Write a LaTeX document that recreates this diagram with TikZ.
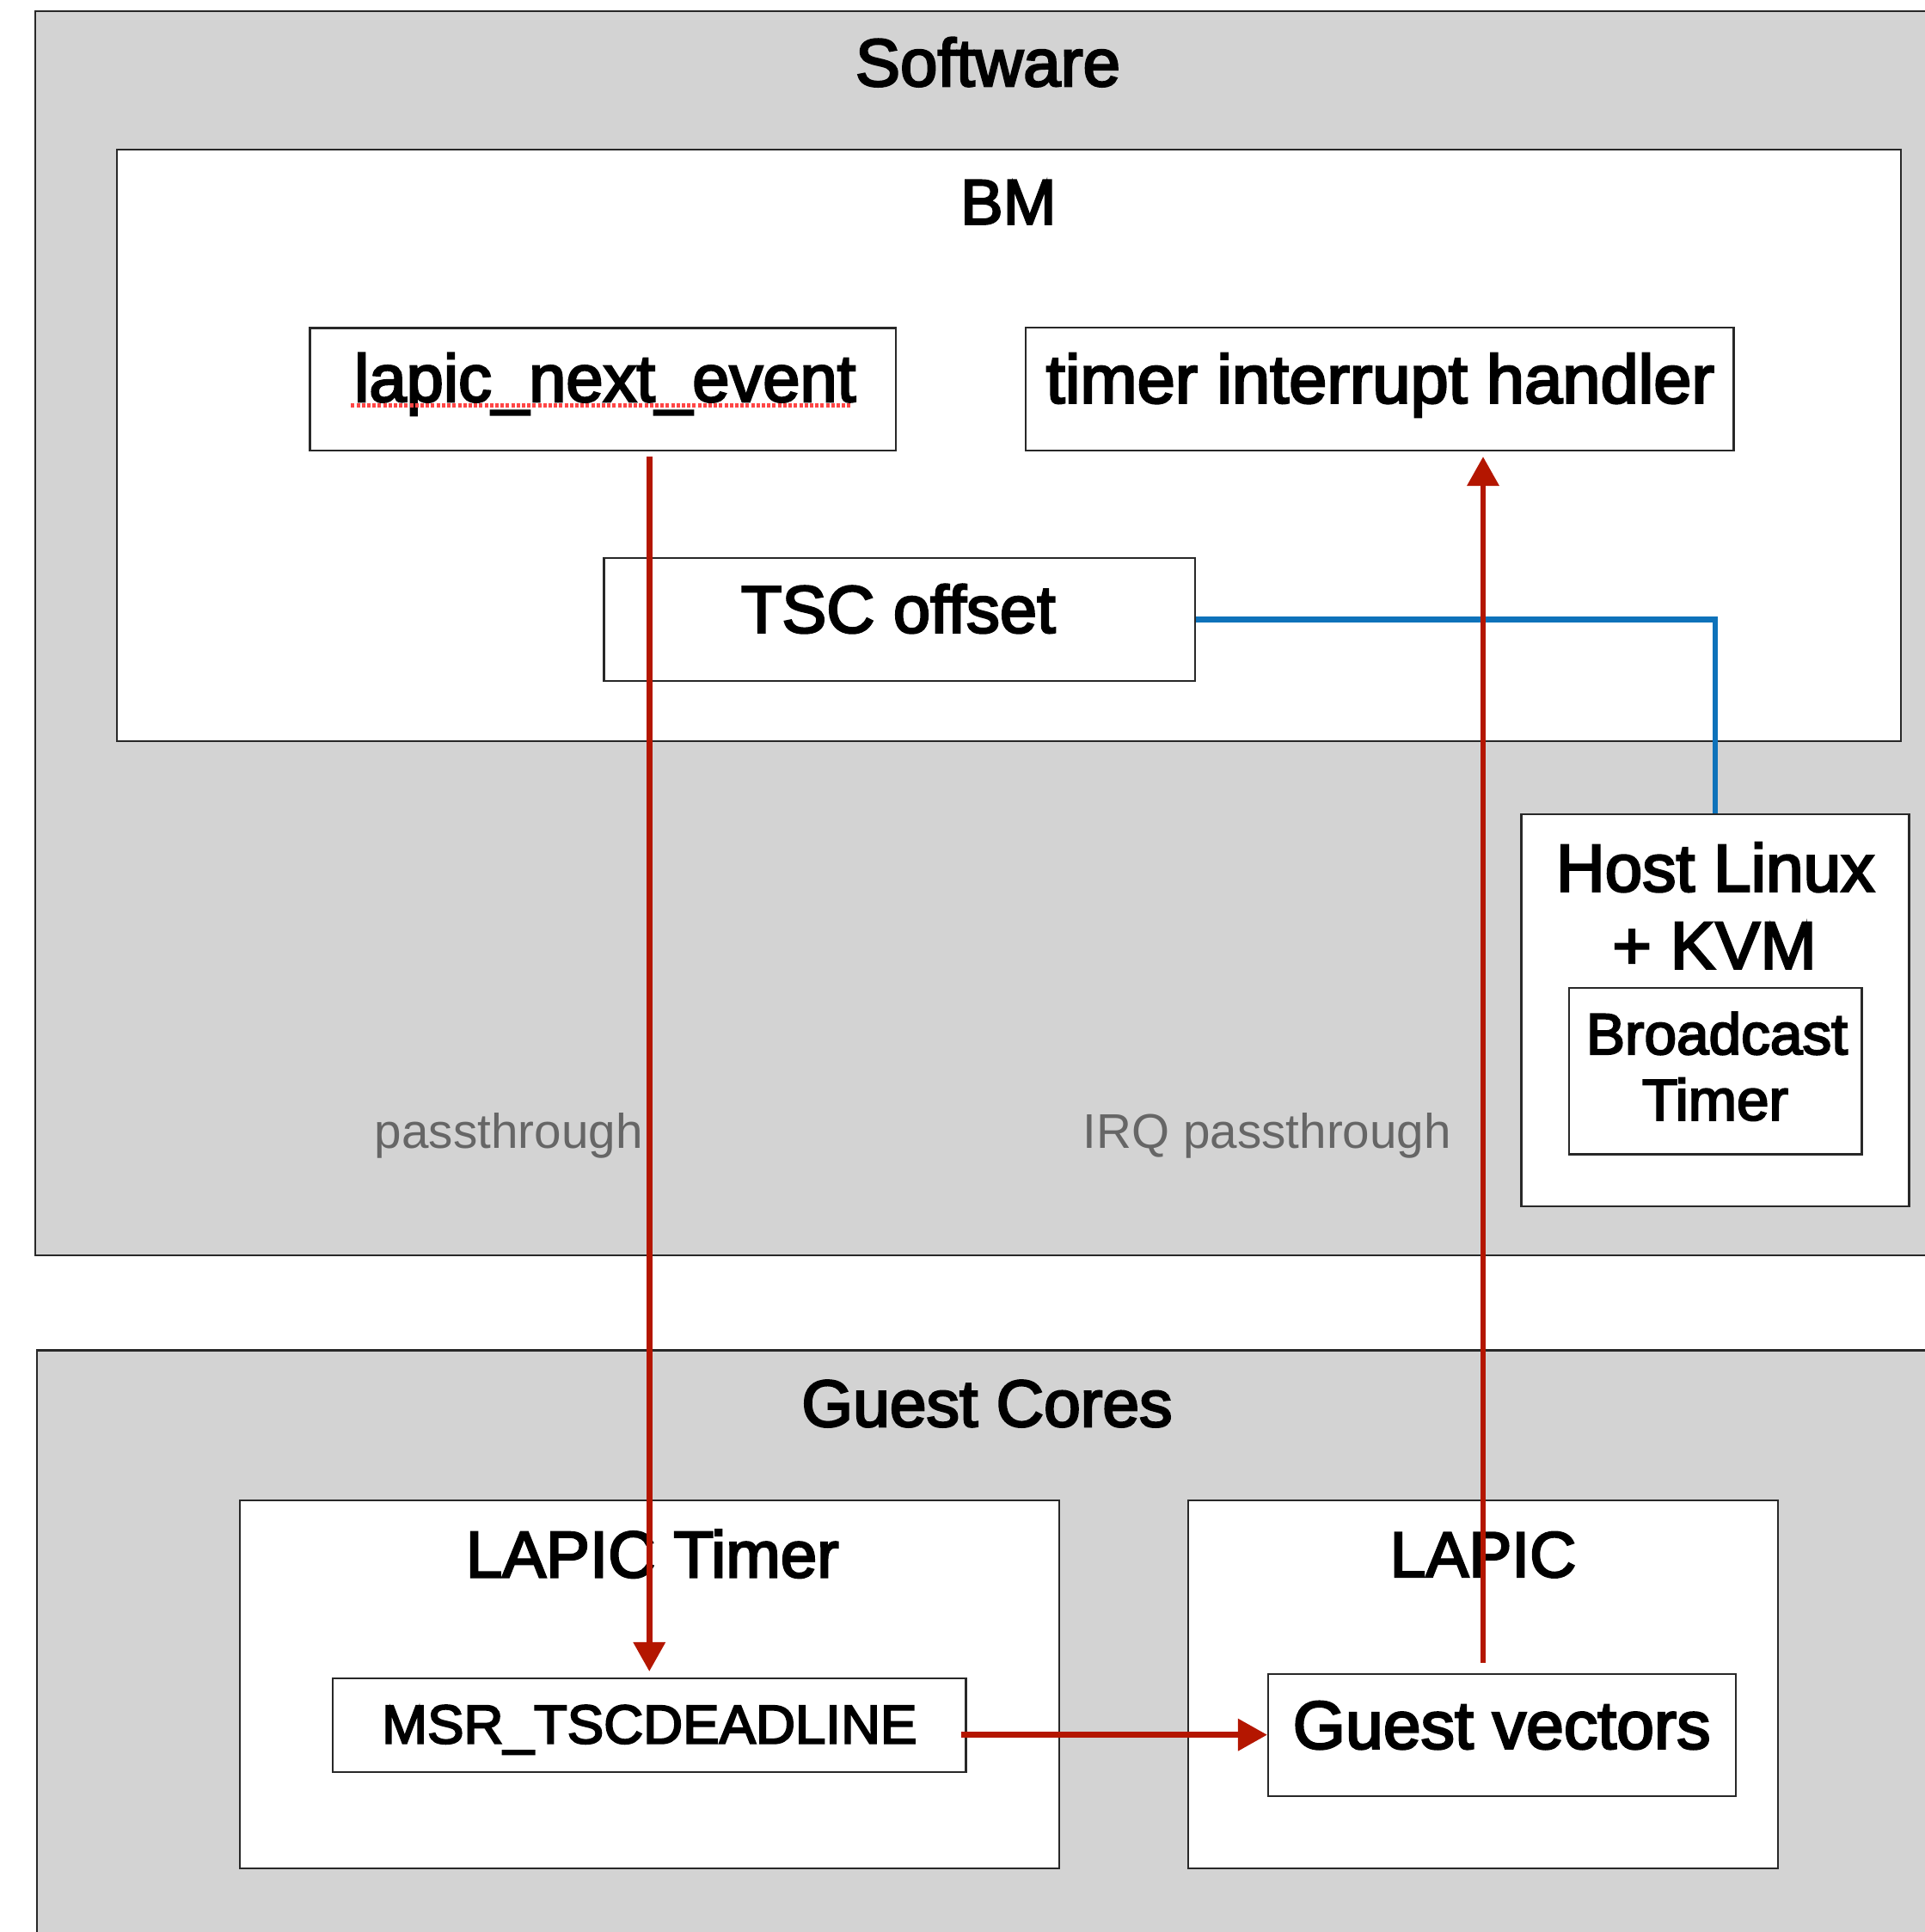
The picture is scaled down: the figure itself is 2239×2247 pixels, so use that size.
\documentclass[tikz,border=0pt]{standalone}
\usepackage{fontspec}
\setmainfont{Liberation Sans}
\newfontfamily\mfont{Liberation Sans}[FakeBold=3.2]
\newfontfamily\lfont{Liberation Sans}
\usetikzlibrary{arrows.meta,fit}
\definecolor{panel}{RGB}{211,211,211}
\definecolor{edge}{RGB}{40,40,40}
\definecolor{redl}{RGB}{180,22,0}
\definecolor{bluel}{RGB}{14,114,186}
\definecolor{lbl}{RGB}{102,102,102}
\definecolor{spell}{RGB}{255,70,70}
\begin{document}
\begin{tikzpicture}[x=0.01cm,y=-0.01cm,
  panelbox/.style={draw=edge, fill=panel, line width=0.6pt, inner sep=0pt},
  box/.style={draw=edge, fill=white, line width=0.6pt, inner sep=0pt},
  tx/.style={inner sep=0pt, anchor=base, text=black, font=\mfont\fontsize{#1}{#1}\selectfont},
  lb/.style={inner sep=0pt, anchor=base east, text=lbl, font=\lfont\fontsize{16.1pt}{16.1pt}\selectfont},
  redarrow/.style={draw=redl, line width=1.9pt, -{Triangle[length=0.34cm,width=0.36cm]}},
  blueline/.style={draw=bluel, line width=1.9pt}
]
\useasboundingbox (0,0) rectangle (2239,2247);
\clip (0,0) rectangle (2239,2247);
\fill[white] (0,0) rectangle (2239,2247);

% panels
\node[panelbox, fit={(40.8,12.8) (2300,1460)}] (sw) {};
\node[panelbox, fit={(43,1570.5) (2300,2300)}] (gc) {};
\node[box, fit={(136,174) (2211,861.7)}] (bm) {};

% boxes
\node[box, fit={(360.5,381.5) (1042,524)}] (lapic) {};
\node[box, fit={(1193,381.4) (2016.5,524)}] (timer) {};
\node[box, fit={(702.5,649) (1389.8,792)}] (tsc) {};
\node[box, fit={(1769.5,947.3) (2220.5,1403)}] (host) {};
\node[box, fit={(1824.7,1149) (2165.5,1342.5)}] (bcast) {};
\node[box, fit={(279.4,1745) (1232,2172.6)}] (ltbox) {};
\node[box, fit={(387,1952) (1123.5,2061)}] (msr) {};
\node[box, fit={(1382,1745) (2068,2172.6)}] (lapicbox) {};
\node[box, fit={(1475,1946.7) (2018.6,2088.6)}] (gv) {};

% texts
\node[tx=22.2pt] (swt) at (1149,100) {Software};
\node[tx=21.1pt] (bmt) at (1172.8,260.7) {BM};
\node[tx=22.1pt] (lapict) at (703.8,467) {lapic\_next\_event};
\node[tx=22.6pt] (timert) at (1605.4,468.6) {timer interrupt handler};
\node[tx=22.1pt] (tsct) at (1044.8,735.7) {TSC offset};
\node[tx=22.3pt] (hostt1) at (1995.3,1036.7) {Host Linux};
\node[tx=22.3pt] (hostt2) at (1994,1126.7) {+ KVM};
\node[tx=19.2pt] (bcastt1) at (1997,1226) {Broadcast};
\node[tx=19.2pt] (bcastt2) at (1995,1302.7) {Timer};
\node[tx=21.85pt] (gct) at (1148,1659) {Guest Cores};
\node[tx=21.7pt] (ltt) at (758.7,1834.4) {LAPIC Timer};
\node[tx=18.1pt] (msrt) at (755.3,2027.6) {MSR\_TSCDEADLINE};
\node[tx=21.3pt] (lapicboxt) at (1725,1834) {LAPIC};
\node[tx=22.4pt] (gvt) at (1746.7,2033.7) {Guest vectors};
\node[lb] (pt1) at (748.3,1335) {passthrough};
\node[lb] (pt2) at (1688.6,1335) {IRQ passthrough};

% spell-check underline
\draw[spell, line width=0.045cm, dash pattern=on 0.04cm off 0.022cm]
  ([yshift=-0.045cm,xshift=-0.03cm]lapict.base west) -- ([yshift=-0.045cm,xshift=-0.06cm]lapict.base east);

% connectors
\draw[blueline] (tsc.east) -| (host.north);
\coordinate (d0) at (lapic.south -| msr.north);
\draw[redarrow] ([yshift=-0.06cm]d0) -- ([yshift=0.07cm]msr.north);
\coordinate (u0) at (gv.north -| lapicbox.north);
\coordinate (u1) at (timer.south -| lapicbox.north);
\draw[redarrow] ([yshift=0.12cm]u0) -- ([yshift=-0.06cm]u1);
\coordinate (h0) at (msr.east |- gv.west);
\draw[redarrow] ([xshift=-0.065cm]h0) -- (gv.west);
\end{tikzpicture}
\end{document}
